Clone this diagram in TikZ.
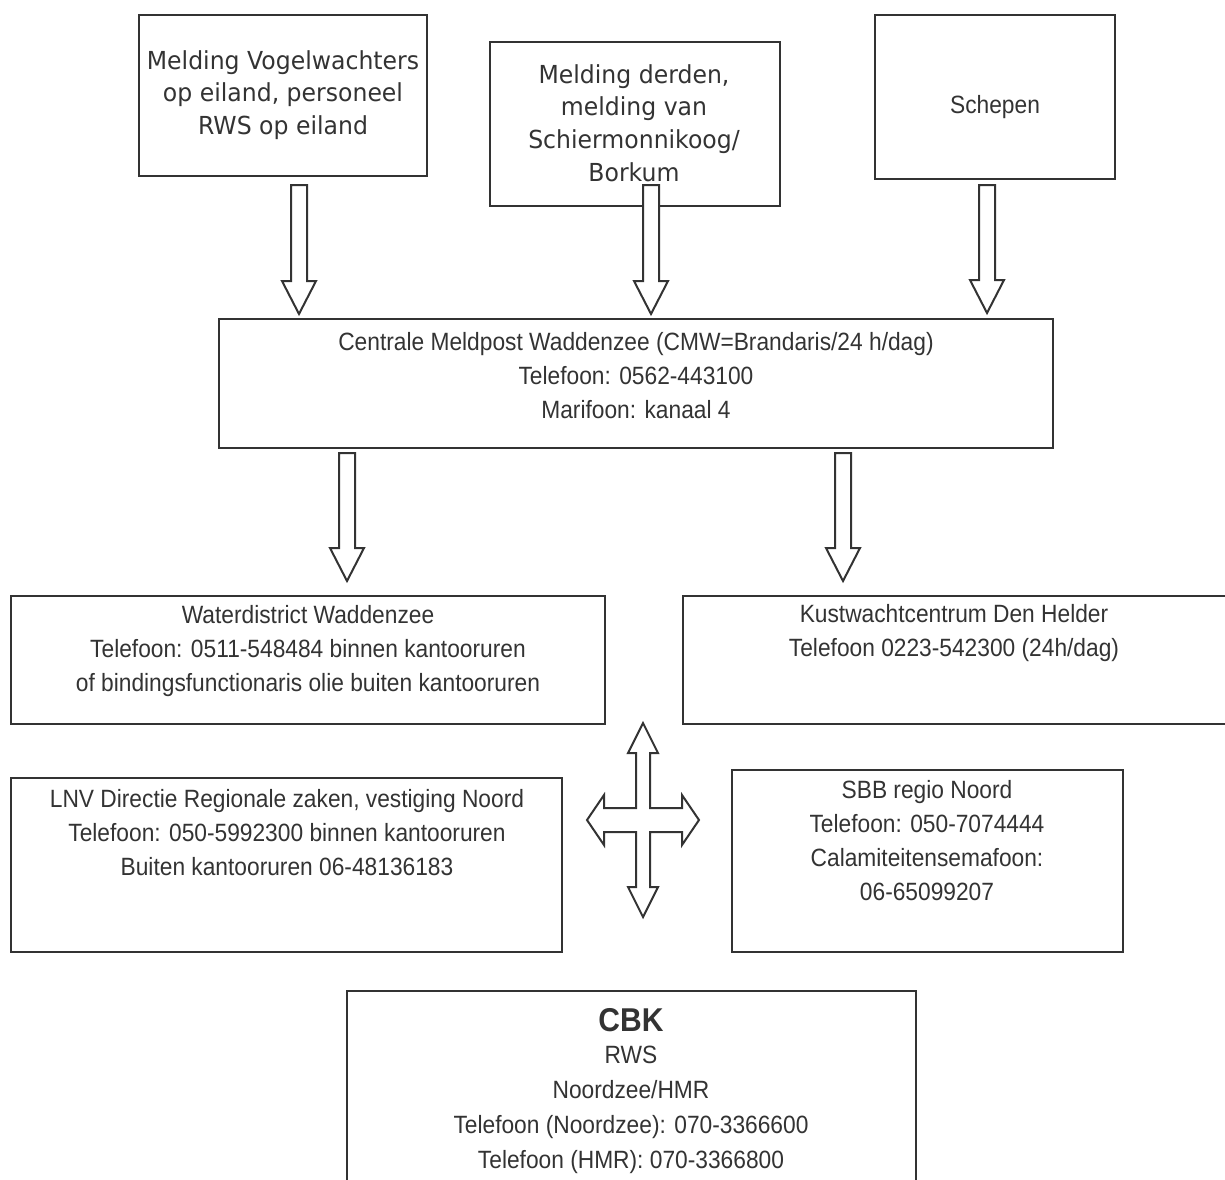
\documentclass[tikz,border=0pt]{standalone}
\usepackage{fontspec}
\setmainfont{Liberation Sans}[FakeStretch=0.91]
\newfontfamily\humfont{DejaVu Sans}[FakeStretch=0.95]
\usetikzlibrary{fit}
\definecolor{ink}{HTML}{333333}
\tikzset{
  box/.style={draw=ink, line width=1pt, inner sep=0pt},
  txt/.style={text=ink, align=center, inner sep=0pt, font=\fontsize{12.5}{17}\selectfont},
  htxt/.style={text=ink, align=center, inner sep=0pt, font=\humfont\fontsize{12.4}{16.3}\selectfont},
  blockarrow/.style={draw=ink, fill=white, line width=1pt, line join=miter},
}
% name, x, y top, y tip
\newcommand\downblock[4]{%
  \coordinate (#1) at (#2,#4);
  \filldraw[blockarrow] ({#2-8},#3) -- ({#2+8},#3) -- ({#2+8},{#4-33}) -- ({#2+17},{#4-33})
     -- (#1) -- ({#2-17},{#4-33}) -- ({#2-8},{#4-33}) -- cycle;}
\begin{document}
\begin{tikzpicture}[x=0.5pt,y=-0.5pt]
\useasboundingbox (0,0) rectangle (1225,1179);
\clip (0,0) rectangle (1225,1179);

% top boxes
\node[box, fit={(139,15) (427,176)}] (b1) {};
\node[htxt] (t1) at (283,95) {Melding Vogelwachters\\op eiland, personeel\\RWS op eiland};
\node[box, fit={(490,42) (780,206)}] (b2) {};
\node[htxt] (t2) at (634,123) {Melding derden,\\melding van\\Schiermonnikoog/\\Borkum};
\node[box, fit={(875,15) (1115,179)}] (b3) {};
\node[txt] (t3) at (995,107) {Schepen};

% central box
\node[box, fit={(219,319) (1053,448)}] (cmw) {};
\node[txt] (tc) at (636,376) {Centrale Meldpost Waddenzee (CMW=Brandaris/24 h/dag)\\Telefoon: 0562-443100\\Marifoon: kanaal 4};

% arrows to central box
\downblock{a1}{299}{185}{314}
\downblock{a2}{651}{185}{314}
\downblock{a3}{987}{185}{313}

% second row
\node[box, fit={(11,596) (605,724)}] (wd) {};
\node[txt] (tw) at (308,651) {Waterdistrict Waddenzee\\Telefoon: 0511-548484 binnen kantooruren\\of bindingsfunctionaris olie buiten kantooruren};
\node[box, fit={(683,596) (1240,724)}] (kw) {};
\node[txt] (tk) at (954,633) {Kustwachtcentrum Den Helder\\Telefoon 0223-542300 (24h/dag)};

\downblock{a4}{347}{453}{581}
\downblock{a5}{843}{453}{581}

% third row
\node[box, fit={(11,778) (562,952)}] (lnv) {};
\node[txt] (tl) at (287,833) {LNV Directie Regionale zaken, vestiging Noord\\Telefoon: 050-5992300 binnen kantooruren\\Buiten kantooruren 06-48136183};
\node[box, fit={(732,770) (1123,952)}] (sbb) {};
\node[txt] (ts) at (927,841) {SBB regio Noord\\Telefoon: 050-7074444\\Calamiteitensemafoon:\\06-65099207};

% four-way arrow
\coordinate (cx) at (643,820);
\filldraw[blockarrow] (643,723) -- (658,753) -- (650,753) -- (650,808) -- (682,808) -- (682,795)
  -- (699,820) -- (682,845) -- (682,832) -- (650,832) -- (650,887) -- (658,887) -- (643,917)
  -- (628,887) -- (636,887) -- (636,832) -- (604,832) -- (604,845) -- (587,820) -- (604,795)
  -- (604,808) -- (636,808) -- (636,753) -- (628,753) -- cycle;

% CBK
\node[box, fit={(347,991) (916,1200)}] (cbk) {};
\node[txt, font=\bfseries\fontsize{16.5}{20}\selectfont] (tcbk) at (631,1020) {CBK};
\node[txt, font=\fontsize{12.5}{17.5}\selectfont] (tcbk2) at (631,1110) {RWS\\Noordzee/HMR\\Telefoon (Noordzee): 070-3366600\\Telefoon (HMR): 070-3366800};
\end{tikzpicture}
\end{document}
